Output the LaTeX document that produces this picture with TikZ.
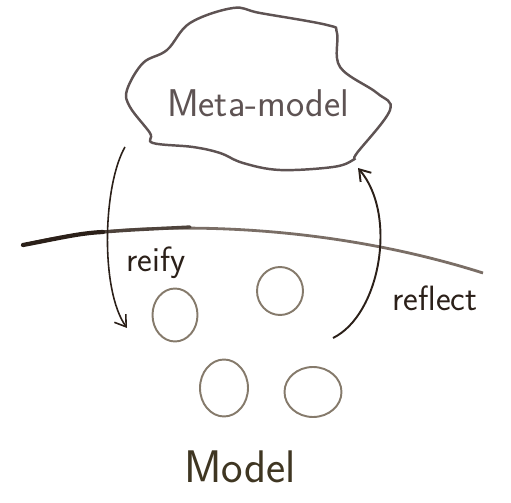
\documentclass[tikz,border=0pt]{standalone}
\usepackage{tikz}
\usetikzlibrary{shapes.geometric, arrows.meta, positioning}
\definecolor{ink}{HTML}{2B2019}
\definecolor{midink}{HTML}{4E433C}
\definecolor{cloudink}{HTML}{5E5353}
\definecolor{penink}{HTML}{857A6B}
\definecolor{lineink}{HTML}{7A6E66}
\definecolor{modelink}{HTML}{3F3622}
\tikzstyle{ring} = [ellipse, draw=penink, line width=1.1pt, inner sep=0pt]
\tikzstyle{word} = [font=\sffamily\fontsize{20}{24}\selectfont, text=ink, inner sep=0pt]
\tikzstyle{arrow} = [->, >={Straight Barb[length=6pt, width=8pt]}, draw=ink, line width=0.9pt]

\begin{document}
\begin{tikzpicture}[x=0.02cm, y=-0.02cm]

    \useasboundingbox (0,0) rectangle (511,503);

    % the meta level
    \draw [cloudink, line width=1.4pt] plot [smooth cycle, tension=0.6] coordinates {(167,50) (190,23) (233,8) (260,13) (327,25) (337,33) (340,67) (377,93) (390,110) (357,153) (353,160) (333,167) (280,170) (243,163) (220,153) (193,147) (153,143) (150,133) (130,107) (127,90) (143,63)};
    \node (meta) [word, text=cloudink, font=\sffamily\fontsize{22}{26}\selectfont] at (258,103) {Meta-model};

    % the border between the levels
    \draw [lineink, line width=1.6pt] (23,245) .. controls (110,222) and (300,215) .. (483,273);
    \draw [midink, line width=1.9pt, line cap=round] (103,232) .. controls (130,230) .. (190,227);
    \draw [ink, line width=2.4pt, line cap=round] (23,245) .. controls (60,238) and (80,233) .. (103,232);

    % the base level
    \node (c1) [ring, minimum width=0.9cm, minimum height=1.06cm] at (175,315) {};
    \node (c2) [ring, minimum width=0.92cm, minimum height=0.96cm] at (280,291) {};
    \node (c3) [ring, minimum width=0.96cm, minimum height=1.14cm] at (224,388) {};
    \node (c4) [ring, minimum width=1.14cm, minimum height=1.0cm] at (313,392) {};
    \node (model) [word, text=modelink, font=\sffamily\fontsize{26}{30}\selectfont] at (240,467) {Model};

    \coordinate (reifytop) at (125,147);
    \coordinate (reifyend) at (127,328);
    \coordinate (reflectbot) at (333,338);
    \coordinate (reflecttop) at (358,168);

    \draw [arrow] (reifytop) .. controls (103,185) and (100,290) .. (reifyend);
    \draw [arrow, line width=1.1pt] (reflectbot) .. controls (380,315) and (398,215) .. (reflecttop);
    \node (reify) [word] at (156,263) {reify};
    \node (reflect) [word] at (435,298) {reflect};

\end{tikzpicture}
\end{document}
